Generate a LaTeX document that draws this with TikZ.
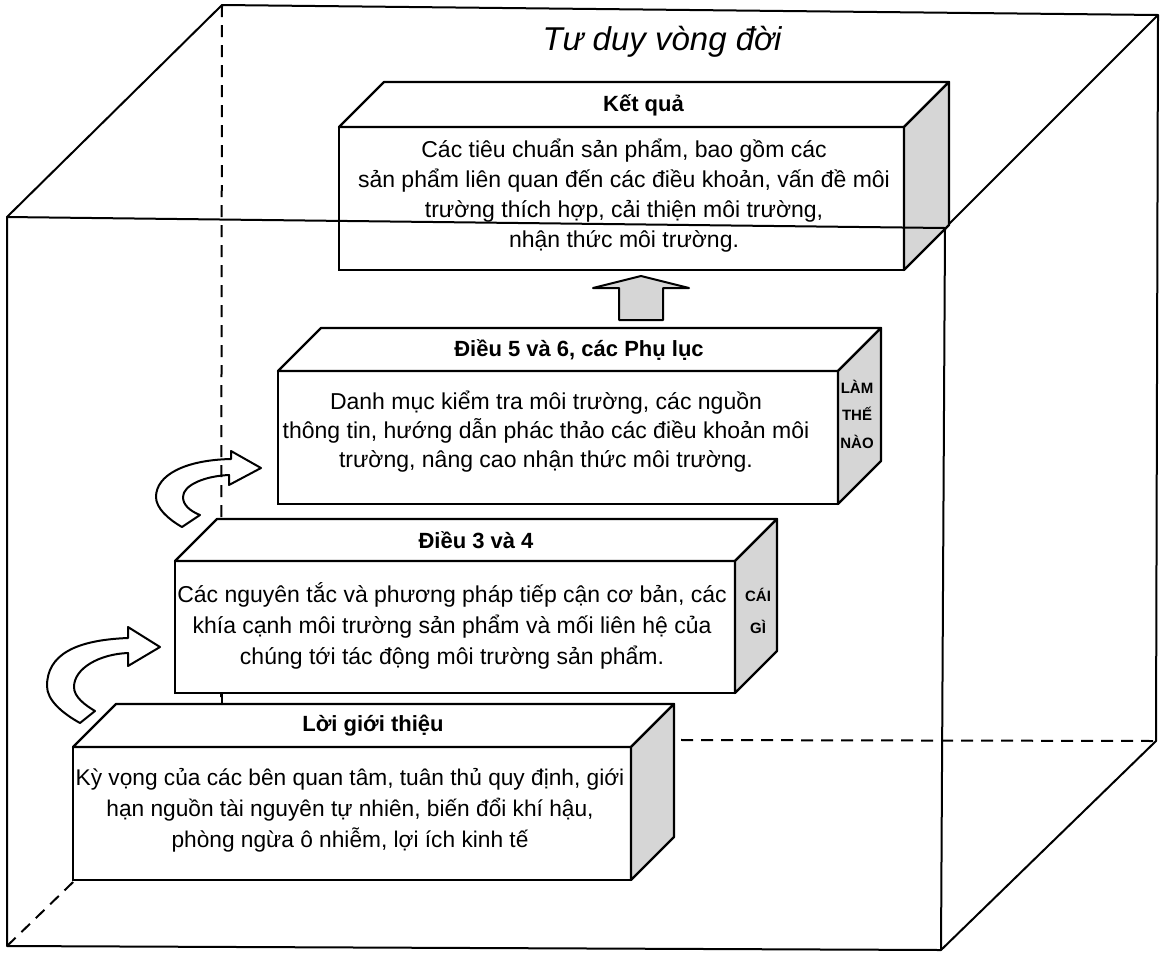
\documentclass[tikz,border=0pt]{standalone}
\usepackage{fontspec}
\setmainfont{Liberation Sans}
\definecolor{facegray}{HTML}{D6D6D6}
\newcommand{\isobox}[6]{% name, x, y, w, h, depth
  \node[frontface, minimum width=#4pt, minimum height=#5pt, anchor=north west] (#1) at (#2,#3) {};
  \draw[topface] (#1.north west) -- ++(#6,-#6) -- ++(#4,0) -- (#1.north east) -- cycle;
  \draw[sideface] (#1.north east) -- ++(#6,-#6) -- ++(0,#5) -- (#1.south east) -- cycle;
}
\begin{document}
\begin{tikzpicture}[x=1pt,y=-1pt,
  edge/.style={line width=2pt, line join=round, line cap=round},
  dashedge/.style={line width=2pt, dash pattern=on 12pt off 8pt},
  frontface/.style={draw, fill=white, line width=2.3pt, inner sep=0pt, outer sep=0pt},
  topface/.style={draw, fill=white, line width=2.3pt, line join=round},
  sideface/.style={draw, fill=facegray, line width=2.3pt, line join=round},
  bodytext/.style={align=center, inner sep=0pt},
  titletext/.style={font=\fontsize{22}{26}\selectfont\bfseries, inner sep=0pt},
  sidetext/.style={align=center, inner sep=0pt},
  bentarrow/.style={draw, line width=2pt, line join=round},
  uparrow/.style={draw, fill=facegray, line width=2pt, line join=round}
]
\useasboundingbox[fill=white] (0,0) rectangle (1164,954);

% cube corners
\coordinate (FTL) at (7,217);
\coordinate (FTR) at (945,228);
\coordinate (FBR) at (941,950);
\coordinate (FBL) at (7,946);
\coordinate (BTL) at (222,5);
\coordinate (BTR) at (1158,15);
\coordinate (BBR) at (1156,741);
\coordinate (BBL) at (221,739);

% hidden edges
\draw[dashedge] (BTL) -- (BBL);
\draw[dashedge] (BBL) -- (BBR);
\draw[dashedge] (FBL) -- (BBL);

% visible back edges and diagonals
\draw[edge] (FTL) -- (BTL) -- (BTR) -- (BBR);
\draw[edge] (FTR) -- (BTR);
\draw[edge] (FBR) -- (BBR);
\draw[edge] (FTL) -- (FBL) -- (FBR) -- (FTR);

% title
\node[font=\fontsize{33}{38}\selectfont\itshape, inner sep=0pt] (title) at (662,42) {Tư duy vòng đời};

% boxes
\isobox{K}{339}{127}{565}{143}{45}
\isobox{D5}{278}{371}{560}{133}{43}
\isobox{D3}{175}{561}{560}{132}{42}
\isobox{L}{73}{747}{558}{133}{43}

% short visible piece of back-left edge
\coordinate (Lback) at ([yshift=43pt]L.north);
\draw[edge] (BTL |- D3.south) -- (BTL |- Lback);

% front top edge over the top box
\draw[edge] (FTL) -- (FTR);

% titles on top faces
\node[titletext] (Kt) at ([xshift=22pt,yshift=22pt]K.north) {Kết quả};
\node[titletext] (D5t) at ([xshift=21pt,yshift=21pt]D5.north) {Điều 5 và 6, các Phụ lục};
\node[titletext] (D3t) at ([xshift=21pt,yshift=21pt]D3.north) {Điều 3 và 4};
\node[titletext] (Lt) at ([xshift=21pt,yshift=21pt]L.north) {Lời giới thiệu};

% body texts
\node[bodytext, font=\fontsize{23}{30}\selectfont] (Kb) at (624,195.5)
  {Các tiêu chuẩn sản phẩm, bao gồm các\\sản phẩm liên quan đến các điều khoản, vấn đề môi\\trường thích hợp, cải thiện môi trường,\\nhận thức môi trường.};
\node[bodytext, font=\fontsize{23}{29}\selectfont] (D5b) at (546,432)
  {Danh mục kiểm tra môi trường, các nguồn\\thông tin, hướng dẫn phác thảo các điều khoản môi\\trường, nâng cao nhận thức môi trường.};
\node[bodytext, font=\fontsize{23}{31}\selectfont] (D3b) at (452,626)
  {Các nguyên tắc và phương pháp tiếp cận cơ bản, các\\khía cạnh môi trường sản phẩm và mối liên hệ của\\chúng tới tác động môi trường sản phẩm.};
\node[bodytext, font=\fontsize{22.7}{31}\selectfont] (Lb) at (350,810)
  {Kỳ vọng của các bên quan tâm, tuân thủ quy định, giới\\hạn nguồn tài nguyên tự nhiên, biến đổi khí hậu,\\phòng ngừa ô nhiễm, lợi ích kinh tế};

% side labels
\node[sidetext, font=\fontsize{15}{27.5}\selectfont\bfseries] (D5s) at (857,414) {LÀM\\THẾ\\NÀO};
\node[sidetext, font=\fontsize{15}{32}\selectfont\bfseries] (D3s) at (758,611) {CÁI\\GÌ};

% up arrow between Điều 5 and Kết quả
\draw[uparrow] (619,320) -- (619,288) -- (593,288) -- (641,276) -- (689,288) -- (663,288) -- (663,320) -- cycle;

% bent arrows
\draw[bentarrow] (80,723) .. controls (62,713) and (47,700) .. (47,686)
  .. controls (47,655) and (75,640) .. (128,638) -- (128,627) -- (160,647) -- (128,666) -- (128,653)
  .. controls (100,654) and (74,668) .. (74,687) .. controls (74,697) and (85,705) .. (95,711) -- cycle;
\draw[bentarrow] (182,527) .. controls (168,519) and (156,508) .. (156,497)
  .. controls (156,475) and (185,460) .. (231,459) -- (231,451) -- (261,468) -- (229,485) -- (229,475)
  .. controls (205,476) and (183,485) .. (183,497) .. controls (183,505) and (190,511) .. (200,515) -- cycle;
\end{tikzpicture}
\end{document}
